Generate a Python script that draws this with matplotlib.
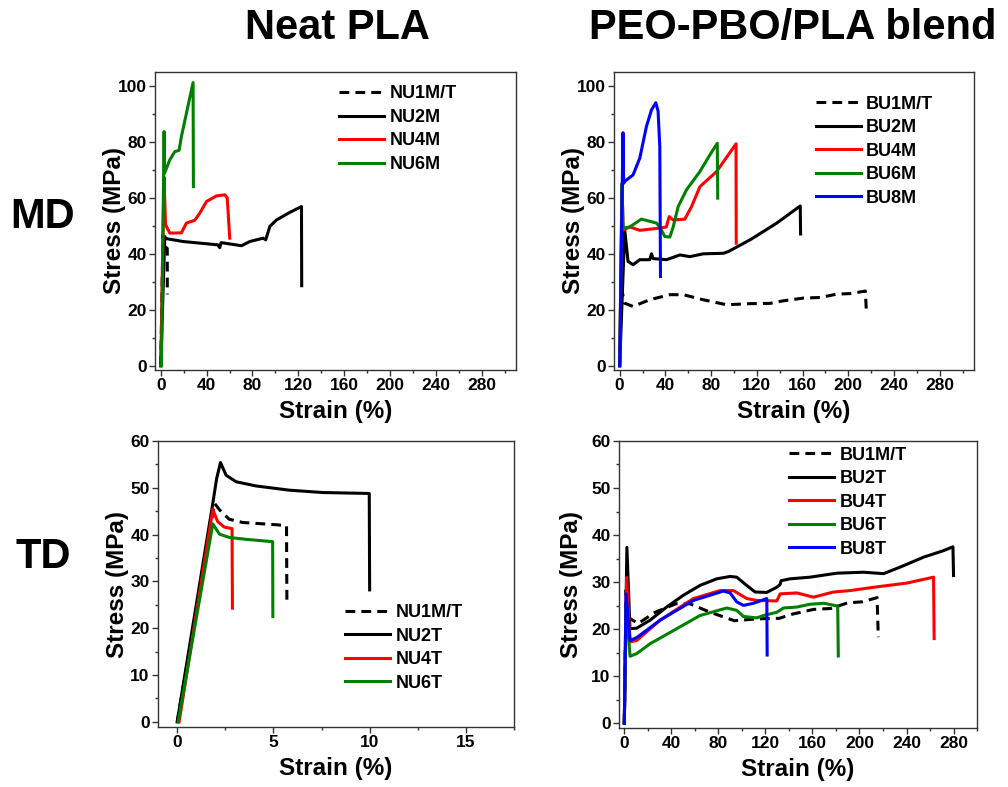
import matplotlib
matplotlib.use("Agg")
import matplotlib.pyplot as plt
from matplotlib.ticker import MultipleLocator

plt.rcParams['font.family'] = ['Liberation Sans', 'DejaVu Sans']
plt.rcParams['font.weight'] = 'bold'

# ---- neat PLA, machine direction (strain %, stress MPa)
nu1_x = [0, 1.94, 2.2, 2.7, 3.4, 5.2, 5.68, 5.7]
nu1_y = [0, 46.7, 45.3, 43.3, 42.6, 42.1, 41.9, 25.5]

nu2m_x = [0, 3.5, 4, 19.5, 39.9, 49.8, 51.5, 52.6, 70.5, 77.7, 89.3, 91.6, 95.2, 101, 112.6, 122.8, 123]
nu2m_y = [0, 46.2, 45.5, 44.4, 43.6, 43.2, 42.2, 44, 42.9, 44.4, 45.6, 45, 49.8, 52.1, 54.8, 56.9, 28.6]

nu4m_x = [0, 2.8, 4.2, 7.9, 18, 22.4, 29.7, 34, 39.9, 48.6, 55.9, 58, 60.2]
nu4m_y = [0, 67.5, 50.4, 47.4, 47.5, 51, 52, 54.5, 58.7, 60.7, 61.1, 60, 45.6]

nu6m_x = [0.6, 2.9, 3.3, 7.9, 12.2, 16, 18, 28.2, 28.5]
nu6m_y = [0, 83.7, 68.8, 73.6, 76.5, 77, 81.9, 101.2, 64]

# ---- blend, machine direction
bu1_x = [0, 1.5, 4, 11.7, 26.3, 43.9, 55.6, 73, 93.6, 114, 131.7, 143, 161, 175.5, 190, 202, 215, 216]
bu1_y = [0, 28.3, 22.4, 21.2, 23.6, 25.4, 25.4, 23.6, 21.8, 22.2, 22.3, 23.2, 24.2, 24.4, 25.6, 25.8, 26.7, 18.3]

bu2m_x = [0, 4.4, 7.3, 11.7, 17.6, 26.3, 27.8, 29.3, 41, 52.7, 61.4, 73.1, 90.7, 95, 114.1, 137.5, 158, 158.3]
bu2m_y = [0, 48.6, 37.3, 36.1, 37.9, 37.9, 40, 38.3, 37.9, 39.6, 39, 40, 40.2, 40.8, 45, 51, 57.1, 47.1]

bu4m_x = [0, 2, 3, 8.8, 17.6, 35, 40.8, 43.3, 46.8, 57, 62.9, 70.2, 84.8, 101.8, 102]
bu4m_y = [0, 65, 48.5, 49.6, 48.4, 49.2, 49.6, 53.3, 52.1, 52.4, 56.9, 64, 69.4, 79.3, 43.8]

bu6m_x = [0, 2, 3, 8.8, 19, 32.2, 35, 39.5, 43.9, 46.8, 51.2, 58.5, 70.2, 79, 85.4, 85.8]
bu6m_y = [0, 65, 49.2, 49.6, 52.4, 51, 49.6, 46.2, 46, 49.6, 56.9, 62.9, 69.4, 75.4, 79.5, 59.9]

bu8m_x = [0, 2.9, 3.5, 4.1, 11.7, 17.6, 23.4, 27.8, 31.6, 33.6, 35.1, 35.7]
bu8m_y = [0, 83.3, 65.2, 65.8, 68.2, 74.2, 85.5, 91.4, 94, 91, 78.3, 31.9]

# ---- neat PLA, transverse direction
nu2t_x = [0, 1.85, 2.05, 2.25, 2.54, 3.06, 4.1, 5.83, 7.56, 9.98, 10.0]
nu2t_y = [0, 46.7, 52, 55.4, 52.7, 51.3, 50.4, 49.5, 49.0, 48.8, 28.2]

nu4t_x = [0.1, 1.85, 2.1, 2.45, 2.85, 2.87]
nu4t_y = [0, 45.4, 42.8, 41.6, 41.3, 24.3]

nu6t_x = [0.05, 1.85, 2.2, 2.71, 3.58, 4.96, 4.97]
nu6t_y = [0, 42.3, 40.1, 39.4, 39.0, 38.5, 22.5]

# ---- blend, transverse direction
bu2t_x = [0, 2.2, 4.8, 10.5, 21.9, 36, 50.2, 64.4, 78.6, 90, 95.6, 104.1, 111.2, 121.1, 129.6, 132.5, 133.3,
          141, 158, 180.8, 203.4, 220.5, 234.7, 254.5, 271.6, 279.5, 280]
bu2t_y = [0, 37.4, 20.1, 20.2, 21.9, 24.7, 27.2, 29.3, 30.7, 31.2, 31.05, 29.3, 27.9, 27.8, 28.9, 29.5, 30.3,
          30.7, 31.05, 31.9, 32.1, 31.8, 33.2, 35.3, 36.7, 37.5, 31.4]

bu4t_x = [0, 2, 4.9, 10.5, 30.4, 58.7, 81.4, 92.8, 104.2, 112.7, 129.7, 132.5, 146.7, 160.9, 177.9, 192,
          211.9, 240.3, 263, 263.5]
bu4t_y = [0, 31, 17.3, 17.6, 21.9, 26.5, 28.2, 28.2, 26.5, 26.1, 26.0, 27.5, 27.7, 26.8, 27.9, 28.2,
          28.9, 29.8, 31.05, 18.0]

bu6t_x = [0, 1.5, 4.9, 10.5, 21.9, 44.6, 64.4, 87.1, 95.6, 101.3, 112.7, 118.4, 129.7, 135.4, 146.7, 158,
          170, 181.5, 182]
bu6t_y = [0, 25.1, 14.25, 14.8, 16.9, 20.1, 22.9, 24.5, 24.0, 22.7, 22.4, 22.9, 23.6, 24.5, 24.7, 25.3,
          25.5, 24.9, 14.3]

bu8t_x = [0, 1.5, 4.9, 10.5, 30.4, 58.7, 84.3, 90, 95.6, 101.3, 109.8, 121.2, 121.5]
bu8t_y = [0, 27.5, 17.6, 18.2, 21.9, 26.1, 28.1, 27.7, 25.8, 25.05, 25.5, 26.5, 14.5]

fig = plt.figure(figsize=(10.08, 7.87), dpi=100)

ax_tl = fig.add_axes([0.1538, 0.5299, 0.3581, 0.3787])
ax_tr = fig.add_axes([0.6091, 0.5299, 0.3571, 0.3787])
ax_bl = fig.add_axes([0.1567, 0.0762, 0.3532, 0.3634])
ax_br = fig.add_axes([0.6141, 0.0750, 0.3552, 0.3647])

dash = (0, (3.2, 2.0))
lw = 2.2

# MD neat
ax_tl.plot(nu1_x, nu1_y, color='black', lw=lw, ls=dash, label='NU1M/T')
ax_tl.plot(nu2m_x, nu2m_y, color='black', lw=lw, label='NU2M')
ax_tl.plot(nu4m_x, nu4m_y, color='red', lw=lw, label='NU4M')
ax_tl.plot(nu6m_x, nu6m_y, color='green', lw=lw, label='NU6M')

# MD blend
ax_tr.plot(bu1_x, bu1_y, color='black', lw=lw, ls=dash, label='BU1M/T')
ax_tr.plot(bu2m_x, bu2m_y, color='black', lw=lw, label='BU2M')
ax_tr.plot(bu4m_x, bu4m_y, color='red', lw=lw, label='BU4M')
ax_tr.plot(bu6m_x, bu6m_y, color='green', lw=lw, label='BU6M')
ax_tr.plot(bu8m_x, bu8m_y, color='blue', lw=lw, label='BU8M')

# TD neat
ax_bl.plot(nu1_x, nu1_y, color='black', lw=lw, ls=dash, label='NU1M/T')
ax_bl.plot(nu2t_x, nu2t_y, color='black', lw=lw, label='NU2T')
ax_bl.plot(nu4t_x, nu4t_y, color='red', lw=lw, label='NU4T')
ax_bl.plot(nu6t_x, nu6t_y, color='green', lw=lw, label='NU6T')

# TD blend
ax_br.plot(bu1_x, bu1_y, color='black', lw=lw, ls=dash, label='BU1M/T')
ax_br.plot(bu2t_x, bu2t_y, color='black', lw=lw, label='BU2T')
ax_br.plot(bu4t_x, bu4t_y, color='red', lw=lw, label='BU4T')
ax_br.plot(bu6t_x, bu6t_y, color='green', lw=lw, label='BU6T')
ax_br.plot(bu8t_x, bu8t_y, color='blue', lw=lw, label='BU8T')

# axes limits and ticks
for ax in (ax_tl, ax_tr):
    ax.set_xlim(-5, 310)
    ax.set_ylim(-1.5, 105)
    ax.xaxis.set_major_locator(MultipleLocator(40))
    ax.xaxis.set_minor_locator(MultipleLocator(20))
    ax.yaxis.set_major_locator(MultipleLocator(20))
    ax.yaxis.set_minor_locator(MultipleLocator(10))

ax_bl.set_xlim(-1, 17.5)
ax_bl.set_ylim(-1.1, 60)
ax_bl.xaxis.set_major_locator(MultipleLocator(5))
ax_bl.xaxis.set_minor_locator(MultipleLocator(2.5))
ax_bl.yaxis.set_major_locator(MultipleLocator(10))
ax_bl.yaxis.set_minor_locator(MultipleLocator(5))

ax_br.set_xlim(-4.5, 300)
ax_br.set_ylim(-1.0, 60)
ax_br.xaxis.set_major_locator(MultipleLocator(40))
ax_br.xaxis.set_minor_locator(MultipleLocator(20))
ax_br.yaxis.set_major_locator(MultipleLocator(10))
ax_br.yaxis.set_minor_locator(MultipleLocator(5))

ypads = {ax_tl: -6, ax_tr: -6, ax_bl: 1, ax_br: 6}
for ax in (ax_tl, ax_tr, ax_bl, ax_br):
    for s in ax.spines.values():
        s.set_linewidth(1.0)
        s.set_color('#333333')
    ax.tick_params(which='major', direction='out', length=4, width=1, labelsize=12.5, pad=2, color='#333333')
    ax.tick_params(which='minor', direction='out', length=2.5, width=1, color='#333333')
    for lab in ax.get_xticklabels() + ax.get_yticklabels():
        lab.set_fontweight('bold')
    ax.set_xlabel('Strain (%)', fontsize=17.5, fontweight='bold', labelpad=5)
    ax.set_ylabel('Stress (MPa)', fontsize=17.5, fontweight='bold', labelpad=ypads[ax])

leg_kw = dict(frameon=False, loc='upper left', borderaxespad=0, borderpad=0,
              handlelength=2.5, handletextpad=0.3, labelspacing=0.36,
              prop={'size': 13, 'weight': 'bold'})
ax_tl.legend(bbox_to_anchor=(0.51, 0.955), **leg_kw)
ax_tr.legend(bbox_to_anchor=(0.56, 0.92), **leg_kw)
ax_bl.legend(bbox_to_anchor=(0.525, 0.43), **leg_kw)
ax_br.legend(bbox_to_anchor=(0.475, 0.98), **leg_kw)

# column and row headings
fig.text(337 / 1008, 1 - 28 / 787, 'Neat PLA', fontsize=30, fontweight='bold',
         ha='center', va='center')
fig.text(793 / 1008, 1 - 28 / 787, 'PEO-PBO/PLA blend', fontsize=30, fontweight='bold',
         ha='center', va='center')
fig.text(43 / 1008, 1 - 217 / 787, 'MD', fontsize=30, fontweight='bold', ha='center', va='center')
fig.text(43 / 1008, 1 - 557 / 787, 'TD', fontsize=30, fontweight='bold', ha='center', va='center')

fig.savefig('out.png', dpi=100)
